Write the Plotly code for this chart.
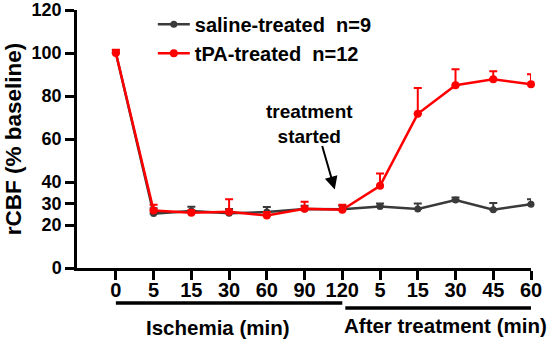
import plotly.graph_objects as go

# Time points: index 0-6 are ischemia, 7-11 are after treatment
tick_labels = ["0", "5", "15", "30", "60", "90", "120", "5", "15", "30", "45", "60"]
positions = list(range(len(tick_labels)))

saline_mean = [100, 25.3, 26.5, 25.5, 26.0, 27.5, 27.3, 28.6, 27.4, 31.6, 27.1, 29.7]
saline_sem = [1.2, 2.5, 2.0, 2.0, 2.4, 1.5, 1.7, 1.4, 2.6, 1.2, 3.1, 2.3]

tpa_mean = [100, 26.7, 25.7, 26.2, 24.4, 27.6, 27.1, 38.2, 71.7, 85.0, 87.8, 85.5]
tpa_sem = [1.5, 2.7, 1.2, 5.8, 1.6, 3.2, 2.3, 5.8, 12.0, 7.4, 3.7, 4.6]

FONT = "Arial, Liberation Sans, sans-serif"
RED = "#ff0000"
GREY = "#3a3a3a"


def bold(size):
    return dict(family=FONT, size=size, color="black", weight="bold")


fig = go.Figure()

fig.add_trace(go.Scatter(
    x=positions, y=saline_mean, mode="lines+markers",
    name="saline-treated\u00a0\u00a0n=9",
    line=dict(color=GREY, width=2.5),
    marker=dict(color=GREY, size=7, symbol="circle"),
    error_y=dict(type="data", array=saline_sem, arrayminus=[0] * len(saline_sem),
                 symmetric=False, color=GREY, thickness=2, width=4),
    cliponaxis=False,
))

fig.add_trace(go.Scatter(
    x=positions, y=tpa_mean, mode="lines+markers",
    name="tPA-treated\u00a0\u00a0n=12",
    line=dict(color=RED, width=2.5),
    marker=dict(color=RED, size=8, symbol="circle"),
    error_y=dict(type="data", array=tpa_sem, arrayminus=[0] * len(tpa_sem),
                 symmetric=False, color=RED, thickness=2, width=4),
    cliponaxis=False,
))

shapes = [
    # group underline bars below the tick labels
    dict(type="line", xref="x", yref="paper", x0=0, x1=6, y0=-0.136, y1=-0.136,
         line=dict(color="black", width=3.5)),
    dict(type="line", xref="x", yref="paper", x0=6.08, x1=11.24, y0=-0.155, y1=-0.155,
         line=dict(color="black", width=3.5)),
]

annotations = [
    dict(text="Ischemia (min)", xref="x", yref="paper", x=2.7, y=-0.23,
         yanchor="middle", showarrow=False, font=bold(20.5)),
    dict(text="After treatment (min)", xref="x", yref="paper", x=8.73, y=-0.223,
         yanchor="middle", showarrow=False, font=bold(20.5)),
    dict(text="treatment<br>started", xref="x", yref="y", x=5.13, y=67,
         showarrow=False, font=bold(19)),
    dict(text="", xref="x", yref="y", x=5.8, y=36.5, ax=-13, ay=-45,
         showarrow=True, arrowhead=2, arrowsize=1.3, arrowwidth=2, arrowcolor="black"),
]

fig.update_layout(
    width=551, height=339,
    margin=dict(l=77, r=20, t=10, b=71, autoexpand=False),
    plot_bgcolor="white", paper_bgcolor="white",
    font=dict(family=FONT, color="black"),
    showlegend=True,
    legend=dict(x=0.167, y=1.02, xanchor="left", yanchor="top",
                bgcolor="rgba(0,0,0,0)", font=bold(20), itemwidth=32),
    shapes=shapes,
    annotations=annotations,
    xaxis=dict(range=[-1.03, 11], tickmode="array", tickvals=positions, ticktext=tick_labels,
               showline=True, linecolor="black", linewidth=2.5, showgrid=False, zeroline=False,
               ticks="outside", ticklen=9, tickwidth=2.5, tickcolor="black",
               ticklabelstandoff=-7, ticklabeloverflow="allow", tickfont=bold(20)),
    yaxis=dict(range=[0, 120], tickmode="array", tickvals=[0, 20, 30, 40, 60, 80, 100, 120],
               showline=True, linecolor="black", linewidth=2.5, showgrid=False, zeroline=False,
               ticks="outside", ticklen=9, tickwidth=2.5, tickcolor="black",
               ticklabeloverflow="allow", tickfont=bold(18),
               title=dict(text="rCBF (% baseline)", font=bold(22.5), standoff=4)),
)

fig.write_html("out.html")
